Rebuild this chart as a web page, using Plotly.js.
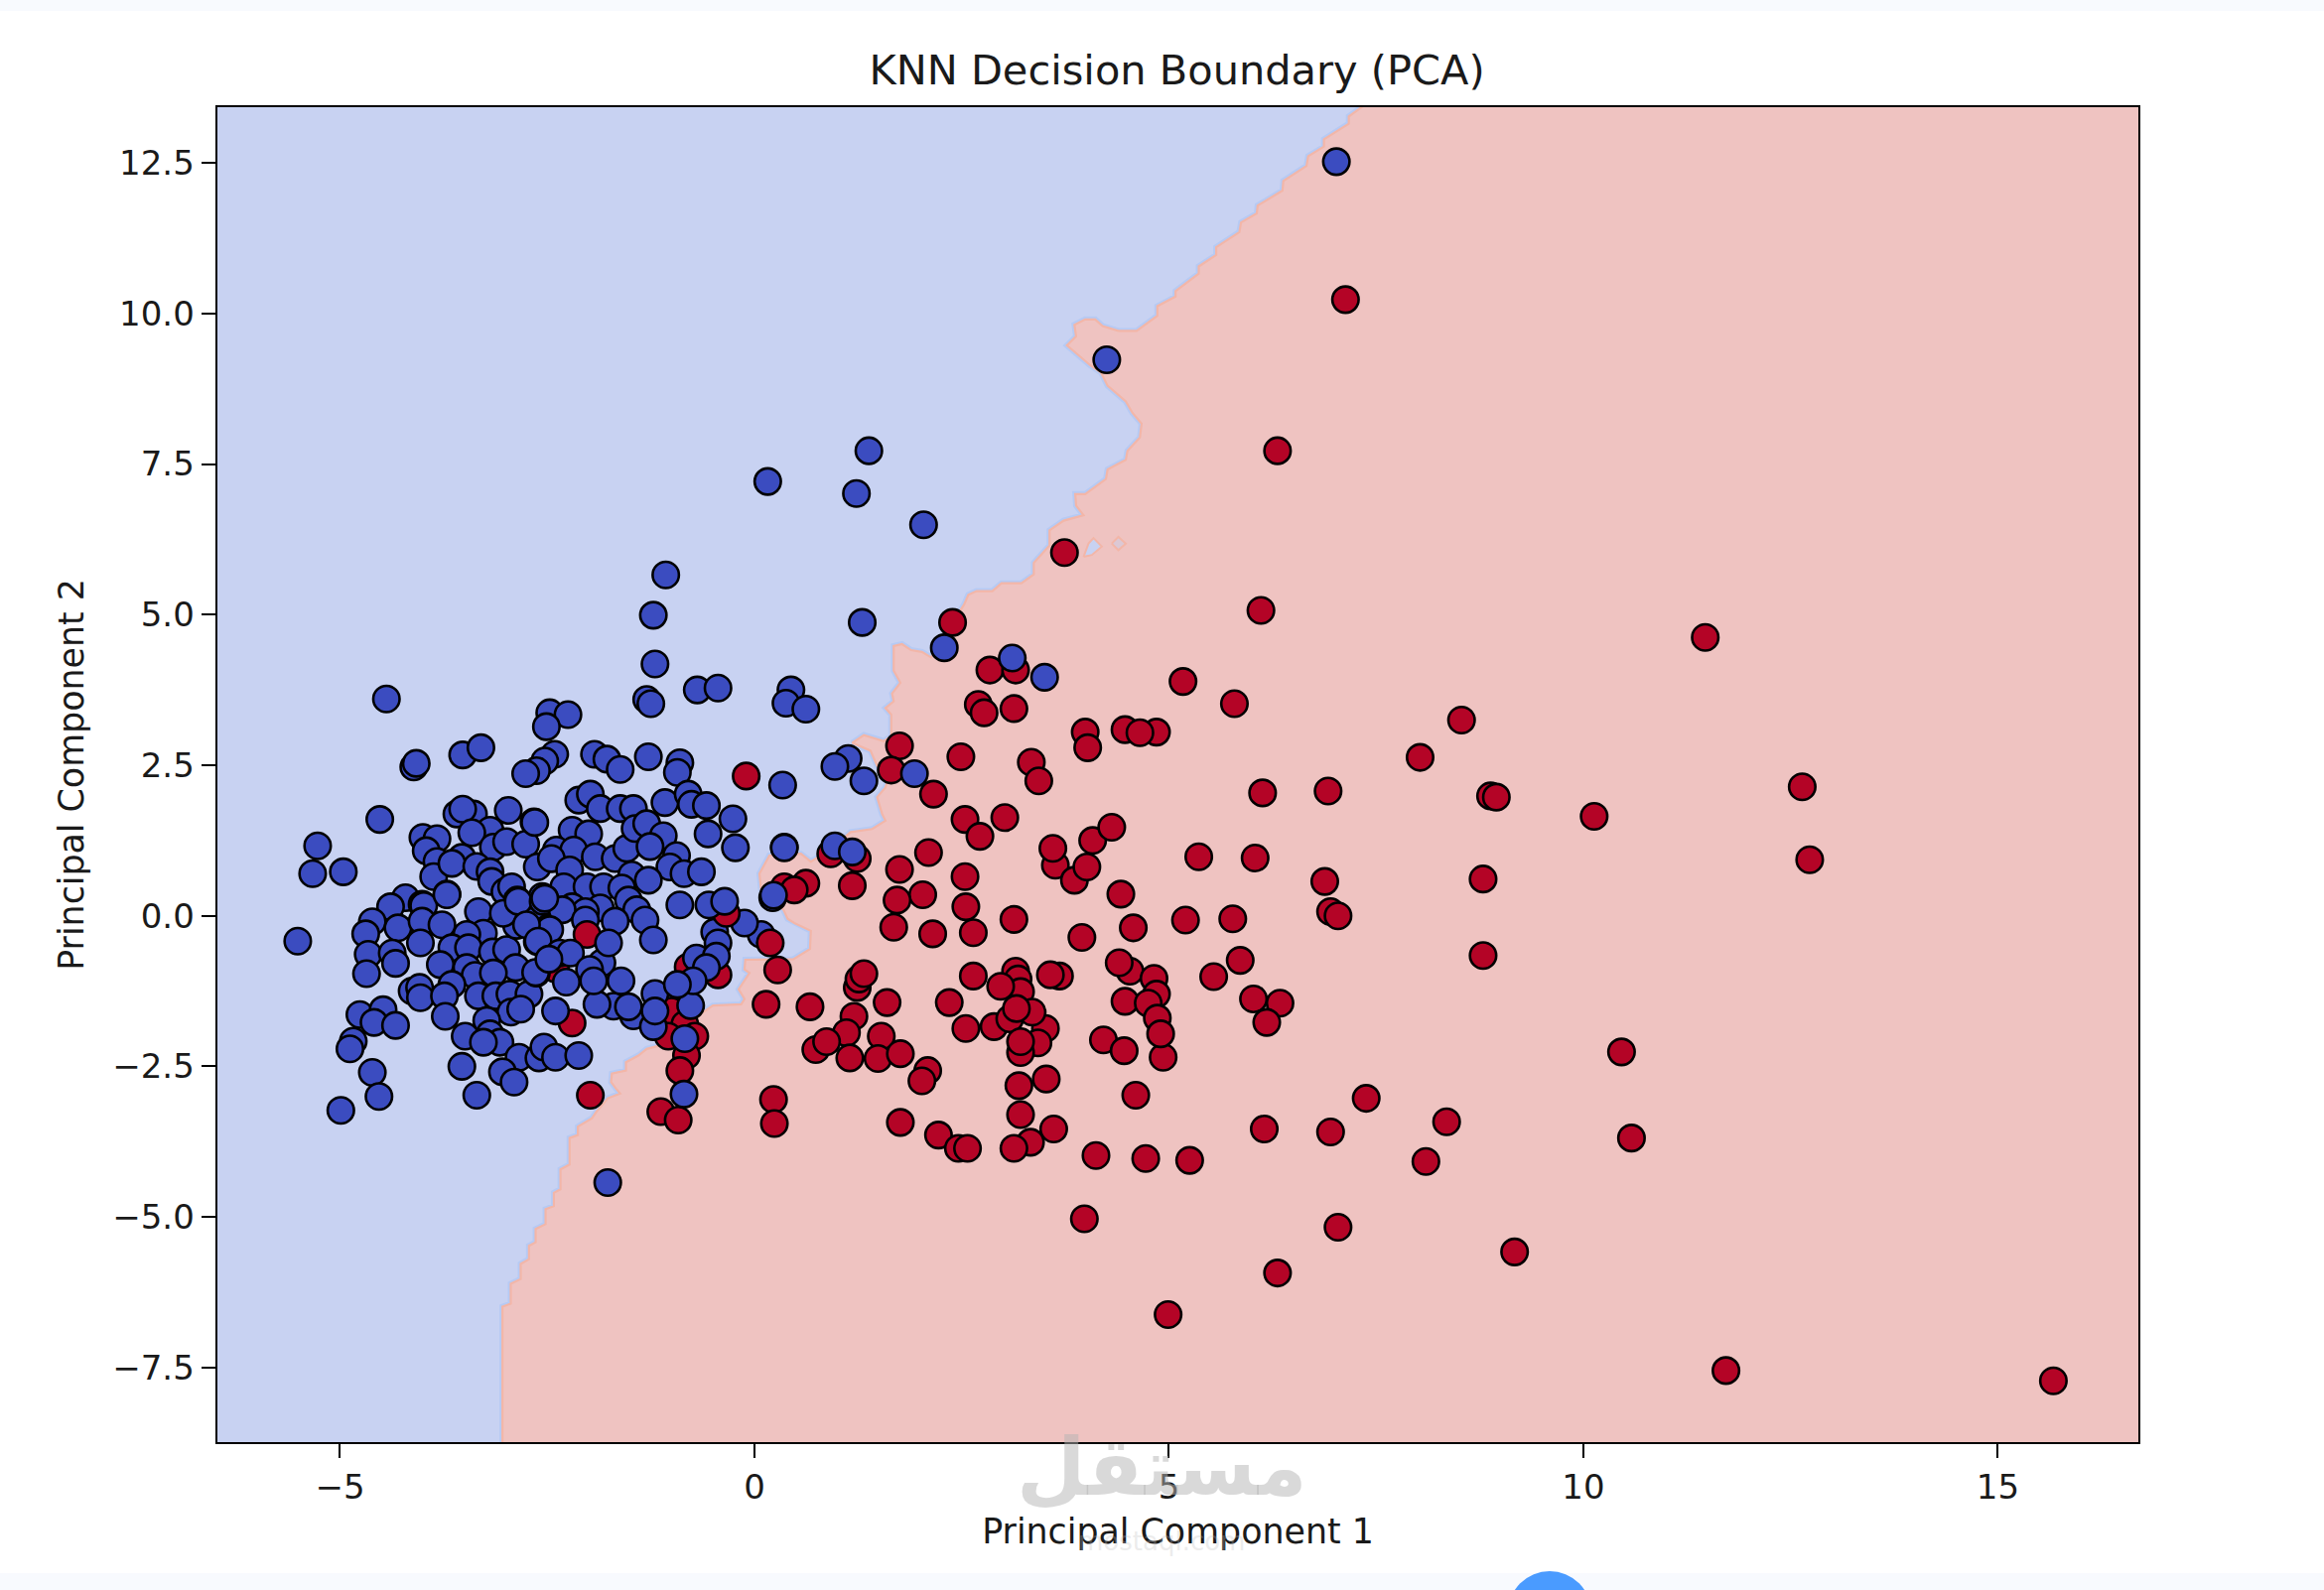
<!DOCTYPE html>
<html>
<head>
<meta charset="utf-8">
<script src="https://cdn.plot.ly/plotly-3.0.1.min.js"></script>
<style>html,body{margin:0;padding:0;background:#fff}#chart{width:2341px;height:1602px}</style>
</head>
<body>
<div id="chart"></div>
<script>
const titleText = "KNN Decision Boundary (PCA)";
const xLabel = "Principal Component 1";
const yLabel = "Principal Component 2";
const xTicks = [-5, 0, 5, 10, 15];
const yTicks = [-7.5, -5, -2.5, 0, 2.5, 5, 7.5, 10, 12.5];
const xRange = [-6.479, 16.695];
const yRange = [-8.738, 13.424];

const boundary = [[-3.04,-8.754],[-3.04,-6.49],[-2.94,-6.44],[-2.94,-6.11],[-2.82,-6.03],[-2.82,-5.78],[-2.72,-5.70],[-2.72,-5.48],[-2.64,-5.42],[-2.64,-5.20],[-2.52,-5.12],[-2.52,-4.87],[-2.42,-4.82],[-2.42,-4.60],[-2.34,-4.54],[-2.34,-4.21],[-2.23,-4.13],[-2.23,-3.69],[-2.13,-3.64],[-2.13,-3.50],[-1.96,-3.36],[-1.91,-3.26],[-1.77,-3.03],[-1.62,-2.95],[-1.67,-2.87],[-1.73,-2.76],[-1.72,-2.62],[-1.55,-2.57],[-1.55,-2.43],[-1.40,-2.32],[-1.30,-2.21],[-1.13,-2.15],[-0.62,-1.60],[-0.50,-1.49],[-0.16,-1.47],[-0.12,-1.38],[-0.19,-1.22],[-0.06,-0.95],[-0.12,-0.89],[-0.11,-0.73],[0.47,-0.72],[0.67,-0.55],[0.68,-0.25],[0.48,-0.12],[0.40,-0.05],[0.35,0.10],[0.08,0.43],[0.06,0.70],[0.18,1.00],[0.56,1.03],[0.68,0.90],[0.92,1.10],[1.16,1.39],[1.42,1.44],[1.58,1.58],[1.54,1.69],[1.48,1.97],[1.58,2.13],[1.62,2.30],[1.48,2.49],[1.40,2.74],[1.18,2.87],[1.32,3.00],[1.56,2.90],[1.65,2.98],[1.65,3.34],[1.58,3.45],[1.68,3.56],[1.66,3.69],[1.76,3.87],[1.68,4.07],[1.68,4.48],[1.78,4.51],[1.89,4.41],[2.02,4.38],[2.13,4.29],[2.53,5.17],[2.58,5.33],[2.68,5.39],[2.87,5.39],[2.98,5.52],[3.22,5.52],[3.37,5.67],[3.37,5.86],[3.56,6.15],[3.56,6.40],[3.73,6.56],[3.97,6.65],[3.88,6.81],[3.87,7.00],[3.99,7.00],[4.24,7.25],[4.26,7.41],[4.48,7.57],[4.50,7.72],[4.65,7.94],[4.67,8.17],[4.56,8.35],[4.48,8.54],[4.26,8.80],[4.18,9.02],[4.05,9.14],[3.77,9.47],[3.88,9.62],[3.86,9.81],[3.99,9.90],[4.11,9.90],[4.20,9.79],[4.39,9.71],[4.61,9.71],[4.86,9.96],[4.86,10.12],[5.08,10.28],[5.08,10.37],[5.36,10.66],[5.36,10.78],[5.57,10.97],[5.57,11.10],[5.85,11.35],[5.87,11.51],[6.06,11.66],[6.07,11.79],[6.37,12.04],[6.38,12.20],[6.66,12.45],[6.68,12.61],[6.87,12.77],[6.87,12.89],[7.17,13.15],[7.17,13.27],[7.34,13.44]];
const islandA = [[3.97,5.96],[4.03,6.18],[4.09,6.27],[4.19,6.13],[4.07,5.99],[3.97,5.96]];
const islandB = [[4.31,6.18],[4.39,6.29],[4.48,6.18],[4.39,6.07],[4.31,6.18]];

const blueBack = [[-4.44,3.60],[-4.11,2.47],[-4.08,2.53],[-3.52,2.67],[-3.30,2.79],[-2.47,3.37],[-2.25,3.34],[-2.51,3.14],[-2.41,2.68],[-2.53,2.57],[-2.63,2.41],[-2.76,2.36],[-4.52,1.60],[-5.27,1.16],[-5.33,0.70],[-4.96,0.73],[-4.00,1.30],[-3.83,1.28],[-3.96,1.08],[-3.83,0.90],[-3.87,0.65],[-3.59,1.69],[-3.39,1.69],[-3.52,1.77],[-2.97,1.75],[-2.66,1.56],[-3.19,1.42],[-3.41,1.38],[-3.15,1.14],[-2.99,1.23],[-2.76,1.19],[-3.53,0.97],[-3.65,0.87],[-3.35,0.82],[-3.19,0.73],[-3.17,0.57],[-3.01,0.40],[-2.93,0.48],[-3.71,0.36],[-2.86,0.26],[-2.56,0.32],[-2.62,0.81],[-2.44,0.95],[-4.21,0.30],[-4.01,0.19],[-4.39,0.15],[-3.33,0.07],[-4.61,-0.10],
[-1.30,3.59],[-1.25,3.52],[-0.69,3.75],[-0.44,3.78],[-1.20,4.18],[0.44,3.75],[0.38,3.53],[0.62,3.43],[-1.93,2.68],[-1.78,2.60],[-1.62,2.43],[-1.28,2.64],[-0.90,2.54],[-0.93,2.38],[0.34,2.17],[-2.12,1.92],[-1.98,2.02],[-1.86,1.78],[-1.62,1.78],[-1.46,1.78],[-1.08,1.88],[-0.80,2.02],[-0.76,1.85],[-0.58,1.83],[-0.26,1.61],[-0.56,1.36],[-0.23,1.13],[0.36,1.14],[-2.65,1.55],[-2.20,1.42],[-2.00,1.36],[-2.39,1.09],[-2.18,1.09],[-2.45,0.95],[-1.92,0.98],[-1.68,0.95],[-1.54,1.12],[-1.44,1.45],[-1.30,1.53],[-1.10,1.33],[-1.26,1.15],[-0.94,1.00],[-1.02,0.81],[-0.85,0.70],[-0.64,0.73],[-2.23,0.76],[-2.30,0.48],[-2.02,0.48],[-1.82,0.48],[-1.48,0.68],[-1.28,0.59],[-1.60,0.46],[-1.52,0.26],[-2.53,0.29],[-2.20,0.15],[-1.86,0.13],[-2.04,0.07],[0.22,0.30],[0.08,-0.31],[-0.48,-0.27],[-0.12,-0.12],
[-5.51,-0.42],[-4.69,-0.30],[-3.99,0.17],[-3.71,0.35],[-4.30,-0.20],[-4.01,-0.09],[-3.77,-0.15],[-4.03,-0.45],[-4.66,-0.64],[-4.37,-0.62],[-4.33,-0.79],[-4.68,-0.96],[-3.27,-0.29],[-3.47,-0.31],[-3.65,-0.53],[-3.45,-0.53],[-3.79,-0.81],[-3.47,-0.86],[-3.37,-0.99],[-3.16,-0.60],[-2.99,-0.56],[-2.87,-0.16],[-2.67,-0.09],[-3.03,0.04],[-2.85,0.24],[-2.55,0.24],[-2.62,-0.43],[-2.48,-0.20],[-2.88,-0.86],[-3.15,-0.95],[-4.13,-1.25],[-4.04,-1.19],[-4.03,-1.36],[-3.65,-1.14],[-3.74,-1.33],[-3.33,-1.33],[-3.12,-1.33],[-2.95,-1.30],[-2.72,-1.30],[-2.94,-1.60],[-2.82,-1.55],[-3.73,-1.67],[-3.23,-1.74],[-4.76,-1.64],[-4.48,-1.56],[-4.59,-1.77],[-4.33,-1.82],[-4.84,-2.08],[-4.88,-2.21],[-3.49,-2.00],[-3.19,-1.96],[-3.07,-2.10],[-3.27,-2.10],[-2.84,-2.35],[-2.60,-2.36],[-2.54,-2.18],[-2.40,-2.35],[-2.12,-2.32],[-3.53,-2.50],[-3.04,-2.59],[-2.90,-2.76],[-4.61,-2.60],[-4.53,-3.00],[-3.35,-2.98],[-4.99,-3.23],[-1.77,-4.43],
[-2.32,0.10],[-2.04,-0.07],[-1.42,0.10],[-1.68,-0.09],[-1.32,-0.07],[-1.22,-0.40],[-2.47,-0.23],[-2.75,-0.15],[-1.70,-1.50],[-1.46,-1.66],[-1.52,-1.51],[-1.90,-1.47],[-1.84,-0.78],[-1.61,-1.08],[-0.44,-0.45]];

const redMiddle = [[-0.10,2.32],[-2.02,-0.31],[-2.40,-0.88],[-2.20,-1.78],[-0.34,0.04],[0.19,-0.45],[0.28,-0.90],[0.14,-1.47],[-0.44,-0.98],[-0.80,-0.85],[-1.00,-1.58],[-0.84,-1.80],[-0.72,-2.00],[-1.04,-2.00],[-0.82,-2.32],[-0.90,-2.57],[-1.13,-3.25],[-0.92,-3.39],[-1.98,-2.98],[0.23,-3.05],[0.24,-3.45],
[1.75,2.82],[1.65,2.42],[2.16,2.02],[2.49,2.64],[3.34,2.55],[3.43,2.24],[2.70,3.51],[2.77,3.37],[3.13,3.44],[3.99,3.05],[4.02,2.79],[4.47,3.09],[4.85,3.05],[4.65,3.04],[2.54,1.60],[2.72,1.32],[3.02,1.63],[3.63,0.84],[3.60,1.12],[3.86,0.59],[4.01,0.81],[4.08,1.25],[4.31,1.47],[2.10,1.05],[1.75,0.77],[1.18,0.50],[0.62,0.54],[0.36,0.48],[0.48,0.43],[0.92,1.03],[1.24,0.95],[2.03,0.35],[1.72,0.26],[2.54,0.65],[2.55,0.15],[4.42,0.36],[1.68,-0.19],[2.15,-0.30],[2.64,-0.28],[3.13,-0.06],[3.95,-0.36],[4.57,-0.20],
[0.67,-1.51],[1.24,-1.19],[1.26,-1.05],[1.32,-0.96],[1.60,-1.44],[1.20,-1.67],[1.11,-1.94],[0.74,-2.22],[0.87,-2.09],[1.15,-2.36],[1.53,-2.00],[1.49,-2.37],[1.76,-2.29],[2.09,-2.57],[2.02,-2.74],[1.76,-3.43],[2.22,-3.64],[2.46,-3.86],[2.57,-3.86],[2.35,-1.44],[2.55,-1.87],[2.64,-1.00],[3.15,-0.92],[3.18,-1.05],[3.21,-1.26],[2.97,-1.17],[3.51,-1.87],[3.42,-2.11],[2.89,-1.84],[3.08,-1.71],[3.35,-1.60],[3.16,-1.54],[3.21,-2.27],[3.21,-2.09],[3.52,-2.71],[3.19,-2.82],[3.21,-3.30],[3.33,-3.76],[3.61,-3.54],[3.13,-3.86],[4.12,-3.98],[4.72,-4.03],[3.98,-5.03],[3.68,-1.00],[3.57,-0.98],[4.53,-0.92],[4.40,-0.78],[4.82,-1.04],[4.47,-1.42],[4.85,-1.30],[4.75,-1.45],[4.93,-2.35],[4.86,-1.70],[4.90,-1.96],[4.21,-2.06],[4.46,-2.24],[4.60,-2.98],
[2.39,4.87],[3.74,6.03],[6.31,7.72],[7.13,10.23],[6.11,5.07],[11.47,4.62],[2.84,4.08],[3.15,4.08],[5.17,3.89],[5.79,3.52],[8.53,3.25],[8.03,2.63],[6.13,2.04],[6.92,2.07],[8.88,1.99],[8.95,1.97],[10.13,1.65],[12.64,2.14],[12.73,0.93],[5.36,0.98],[6.04,0.96],[6.88,0.57],[8.79,0.61],[6.95,0.07],[7.04,0.00],[5.20,-0.07],[5.77,-0.05],[5.86,-0.74],[8.79,-0.66],[5.54,-1.01],[6.02,-1.38],[6.34,-1.45],[6.18,-1.77],[10.46,-2.26],[10.58,-3.69],[7.38,-3.03],[8.35,-3.42],[6.95,-3.59],[6.15,-3.54],[5.25,-4.06],[8.10,-4.08],[7.04,-5.17],[9.17,-5.58],[6.31,-5.93],[4.99,-6.62],[11.72,-7.55],[15.67,-7.72]];

const blueFront = [[-2.53,0.29],[-1.76,-0.45],[-2.61,-0.42],[-2.63,-0.95],[-2.64,-0.94],[-2.35,-0.62],[-2.22,-0.62],[-2.48,-0.72],[-2.27,-1.10],[-1.99,-0.89],[-1.94,-1.08],[-2.40,-1.58],[-0.84,-2.04],[-0.77,-1.49],[-0.85,-2.96],[-1.22,-1.84],[-1.20,-1.29],[-1.20,-1.58],[-0.90,0.18],[-0.55,0.18],[-0.36,0.24],[-0.70,-0.70],[-0.46,-0.67],[-0.58,-0.86],[-0.74,-1.08],[-0.93,-1.14],[7.02,12.52],[4.25,9.23],[1.38,7.72],[0.16,7.21],[1.23,7.01],[2.04,6.49],[-1.07,5.66],[-1.22,4.99],[1.30,4.87],[2.29,4.45],[3.11,4.28],[3.50,3.96],[1.13,2.61],[0.97,2.48],[1.32,2.24],[1.93,2.36],[0.36,1.13],[0.97,1.16],[1.18,1.06],[0.23,0.34]];

const BLUE_BG = "#c8d2f2", RED_BG = "#efc3c1", EDGE_RED = "#f3b6a8", EDGE_BLUE = "#b6caf4";
const px = (v) => (v - 219) / 1935;
const py = (v) => (1453 - v) / 1345;
const cols = (a, i) => a.map(p => p[i]);
const scatterOf = (pts, color) => ({
  type: "scatter", mode: "markers", x: cols(pts, 0), y: cols(pts, 1), hoverinfo: "skip",
  marker: {size: 26.5, color: color, line: {color: "#000", width: 2.6}}
});
const fillPoly = boundary.concat([[xRange[1], 13.44], [xRange[1], -8.754]]);
const data = [
  {type:"scatter", mode:"lines", x:cols(boundary,0), y:cols(boundary,1), line:{color:EDGE_BLUE,width:6}, hoverinfo:"skip"},
  {type:"scatter", mode:"lines", x:cols(fillPoly,0), y:cols(fillPoly,1), fill:"toself", fillcolor:RED_BG, line:{color:RED_BG,width:0}, hoverinfo:"skip"},
  {type:"scatter", mode:"lines", x:cols(boundary,0), y:cols(boundary,1), line:{color:EDGE_RED,width:2.2}, hoverinfo:"skip"},
  {type:"scatter", mode:"lines", x:cols(islandA,0), y:cols(islandA,1), fill:"toself", fillcolor:BLUE_BG, line:{color:EDGE_RED,width:2}, hoverinfo:"skip"},
  {type:"scatter", mode:"lines", x:cols(islandB,0), y:cols(islandB,1), fill:"toself", fillcolor:"#dcc8d4", line:{color:EDGE_RED,width:2}, hoverinfo:"skip"},
  scatterOf(blueBack, "#3b4cc0"),
  scatterOf(redMiddle, "#b40426"),
  scatterOf(blueFront, "#3b4cc0")
];
const axisBase = {
  showgrid:false, zeroline:false, showline:true, mirror:true, linecolor:"#000", linewidth:2.4,
  ticks:"outside", ticklen:14, tickwidth:2, tickcolor:"#000", tickmode:"array",
  tickfont:{family:"DejaVu Sans", size:34, color:"#1a1a1a"}
};
const layout = {
  width:2341, height:1602, showlegend:false, autosize:false,
  paper_bgcolor:"#ffffff", plot_bgcolor:BLUE_BG,
  margin:{l:219, r:187, t:108, b:149, pad:0},
  title:{text:titleText, font:{family:"DejaVu Sans", size:41.5, color:"#1a1a1a"}, x:0.4995, xref:"paper", xanchor:"center", y:1-70.5/1602, yref:"container", yanchor:"middle"},
  xaxis:Object.assign({}, axisBase, {range:xRange, tickvals:xTicks, tickformat:"d", title:{text:xLabel, font:{family:"DejaVu Sans", size:34.8, color:"#1a1a1a"}, standoff:14}}),
  yaxis:Object.assign({}, axisBase, {range:yRange, tickvals:yTicks, tickformat:".1f", title:{text:yLabel, font:{family:"DejaVu Sans", size:34.8, color:"#1a1a1a"}, standoff:18}}),
  shapes:[
    {type:"rect", xref:"paper", yref:"paper", x0:px(0), x1:px(2341), y0:py(0), y1:py(11), fillcolor:"#f8fafe", line:{width:0}, layer:"below"},
    {type:"rect", xref:"paper", yref:"paper", x0:px(0), x1:px(2341), y0:py(1585), y1:py(1602), fillcolor:"#f8fafe", line:{width:0}, layer:"below"},
    {type:"circle", xref:"paper", yref:"paper", x0:px(1561-42), x1:px(1561+42), y0:py(1583), y1:py(1667), fillcolor:"#4a9bff", line:{width:0}, layer:"above"}
  ],
  annotations:[
    {text:"مستقل", xref:"paper", yref:"paper", x:px(1170), y:py(1478), showarrow:false, xanchor:"center", yanchor:"middle", font:{family:"DejaVu Sans", size:80, color:"rgba(180,180,180,0.5)", weight:700}},
    {text:"mostaql.com", xref:"paper", yref:"paper", x:px(1170), y:py(1553), showarrow:false, xanchor:"center", yanchor:"middle", font:{family:"DejaVu Sans", size:26, color:"rgba(190,190,190,0.3)"}}
  ]
};
Plotly.newPlot("chart", data, layout, {displayModeBar:false, staticPlot:true});
</script>
</body>
</html>
